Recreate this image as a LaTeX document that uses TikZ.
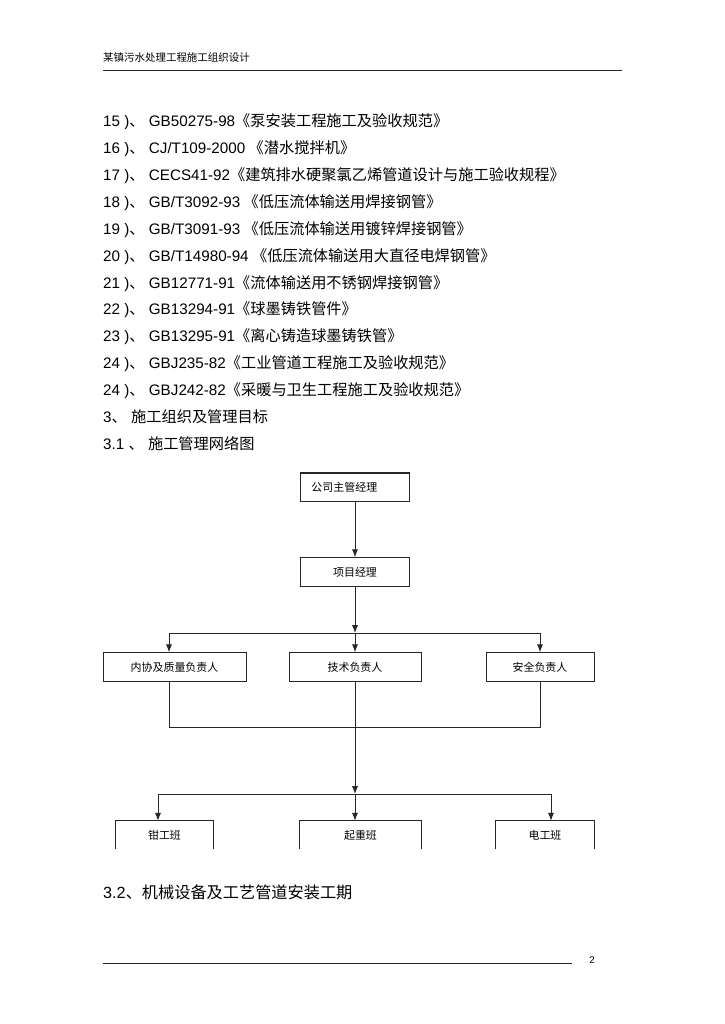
\documentclass[tikz,border=0pt]{standalone}
\usepackage{fontspec}
\setmainfont{Noto Sans CJK SC}
\newfontfamily\lat{Liberation Sans}
\usetikzlibrary{arrows.meta,positioning}

\newcommand\stdline[3]{{\lat #1 )}、{\lat\ #2}#3}

\tikzset{
  line/.style={draw=black!85,line width=0.75pt},
  arr/.style={line,-{Latex[length=6.5pt,width=5pt]}},
  listline/.style={anchor=west,inner sep=0pt,font=\fontsize{12.5}{14}\selectfont},
  box/.style={line,minimum height=23.5pt,inner sep=2pt,font=\fontsize{9}{11}\selectfont},
  openbox/.style={minimum height=23pt,inner sep=2pt,font=\fontsize{9}{11}\selectfont}
}

\begin{document}
\begin{tikzpicture}[x=0.8215pt,y=-0.8215pt]
\useasboundingbox (0,0) rectangle (724,1024);

% page head and foot
\node[anchor=west,inner sep=0pt,font=\fontsize{8.6}{10}\selectfont] (head) at (103,58) {某镇污水处理工程施工组织设计};
\draw[line] (103,70) -- (622,70);
\draw[line] (103,963) -- (572,963);
\node[inner sep=0pt,font=\lat\fontsize{8}{10}\selectfont] (pageno) at (592,960) {2};

% standards list
\node[listline] (l15) at (103,122) {\stdline{15}{GB50275-98}{《泵安装工程施工及验收规范》}};
\node[listline] (l16) at (103,149) {\stdline{16}{CJ/T109-2000}{ 《潜水搅拌机》}};
\node[listline] (l17) at (103,176) {\stdline{17}{CECS41-92}{《建筑排水硬聚氯乙烯管道设计与施工验收规程》}};
\node[listline] (l18) at (103,203) {\stdline{18}{GB/T3092-93}{ 《低压流体输送用焊接钢管》}};
\node[listline] (l19) at (103,230) {\stdline{19}{GB/T3091-93}{ 《低压流体输送用镀锌焊接钢管》}};
\node[listline] (l20) at (103,257) {\stdline{20}{GB/T14980-94}{ 《低压流体输送用大直径电焊钢管》}};
\node[listline] (l21) at (103,284) {\stdline{21}{GB12771-91}{《流体输送用不锈钢焊接钢管》}};
\node[listline] (l22) at (103,310) {\stdline{22}{GB13294-91}{《球墨铸铁管件》}};
\node[listline] (l23) at (103,337) {\stdline{23}{GB13295-91}{《离心铸造球墨铸铁管》}};
\node[listline] (l24a) at (103,364) {\stdline{24}{GBJ235-82}{《工业管道工程施工及验收规范》}};
\node[listline] (l24b) at (103,391) {\stdline{24}{GBJ242-82}{《采暖与卫生工程施工及验收规范》}};
\node[listline] (s3) at (103,417) {{\lat 3}、{\lat\ }施工组织及管理目标};
\node[listline] (s31) at (103,444) {{\lat 3.1 }、{\lat\ }施工管理网络图};
\node[listline,font=\fontsize{13.3}{15}\selectfont] (s32) at (103,892) {{\lat 3.2}、机械设备及工艺管道安装工期};

% management network
\node[box,minimum width=89.5pt,text width=71.5pt,inner xsep=9pt,align=left] (boss) at (355,487.5) {公司主管经理};
\node[box,minimum width=89.5pt] (pm) at (355,572) {项目经理};
\node[box,minimum width=117.5pt] (qa) at (174.5,667) {内协及质量负责人};
\node[box,minimum width=108.5pt] (tech) at (355,667) {技术负责人};
\node[box,minimum width=88.7pt] (safe) at (540,667) {安全负责人};
\node[openbox,minimum width=79.7pt] (fitter) at (164.5,835) {钳工班};
\node[openbox,minimum width=99.4pt] (crane) at (360.5,835) {起重班};
\node[openbox,minimum width=80.5pt] (elec) at (545,835) {电工班};
\draw[line,line width=1.6pt] (boss.north west) -- (boss.north east);
\foreach \n in {fitter,crane,elec}
  \draw[line] (\n.south west) |- (\n.north east) -- (\n.south east);

\coordinate (j1) at (355,633);
\coordinate (b1w) at (169,633);
\coordinate (b1e) at (540,633);
\coordinate (j2) at (355,727);
\coordinate (b2w) at (169,727);
\coordinate (b2e) at (540,727);
\coordinate (j3) at (355,794);
\coordinate (b3w) at (158,794);
\coordinate (b3e) at (551,794);

\draw[arr] (boss) -- (pm);
\draw[arr] (pm) -- (j1);
\draw[line] (b1w) -- (b1e);
\draw[arr] (b1w) -- (b1w |- qa.north);
\draw[arr] (j1) -- (tech);
\draw[arr] (b1e) -- (b1e |- safe.north);
\draw[line] (b2w |- qa.south) -- (b2w) -- (b2e) -- (b2e |- safe.south);
\draw[line] (tech) -- (j2);
\draw[arr] (j2) -- (j3);
\draw[line] (b3w) -- (b3e);
\draw[arr] (b3w) -- (b3w |- fitter.north);
\draw[arr] (j3) -- (j3 |- crane.north);
\draw[arr] (b3e) -- (b3e |- elec.north);
\end{tikzpicture}
\end{document}
